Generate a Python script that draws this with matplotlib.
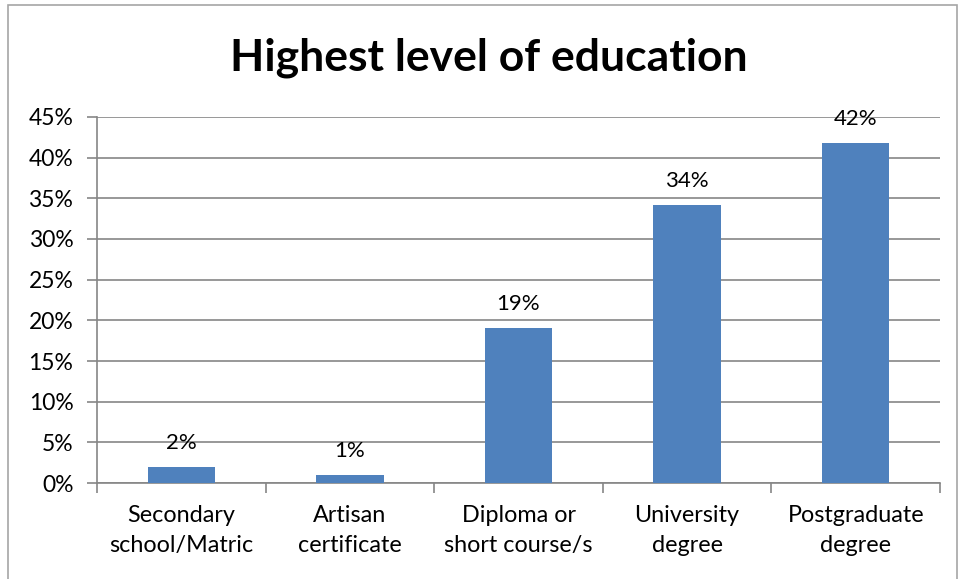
import matplotlib.pyplot as plt
import numpy as np
from matplotlib.patches import Rectangle

categories = ["Secondary\nschool/Matric", "Artisan\ncertificate", "Diploma or\nshort course/s",
              "University\ndegree", "Postgraduate\ndegree"]
values = [2, 1, 19, 34, 42]
bar_vals = [1.95, 0.95, 19.05, 34.2, 41.85]
yticks = [0, 5, 10, 15, 20, 25, 30, 35, 40, 45]

plt.rcParams['font.family'] = ['Lato', 'DejaVu Sans']
grey = "#868686"

fig = plt.figure(figsize=(9.58, 5.79), dpi=100)
fig.patches.append(Rectangle((8 / 958, -0.01), 0.999 - 8 / 958, 1 - 5 / 579 + 0.01,
                             transform=fig.transFigure, fill=False, edgecolor="#a6a6a6", linewidth=1.2))

ax = fig.add_axes([97 / 958, 1 - 483 / 579, (940 - 97) / 958, (483 - 117) / 579])
x = np.arange(len(categories))
ax.bar(x, bar_vals, width=0.4, color="#4f81bd", zorder=3)

for xi, v, label in zip(x, bar_vals, values):
    ax.annotate(f"{label}%", (xi, v), xytext=(0, 10), textcoords="offset points",
                ha="center", va="bottom", fontsize=16)

ax.set_xlim(-0.5, len(categories) - 0.5)
ax.set_ylim(0, 45)
ax.set_yticks(yticks)
ax.set_yticklabels([f"{t}%" for t in yticks], fontsize=16.5)
ax.yaxis.grid(True, color=grey, linewidth=1.2, zorder=0)
ax.set_axisbelow(True)

ax.set_xticks(np.arange(len(categories) + 1) - 0.5)
ax.set_xticklabels([])
ax.set_xticks(x, minor=True)
ax.set_xticklabels(categories, minor=True, fontsize=16.8, linespacing=1.5)
ax.tick_params(axis="x", which="minor", length=0, pad=16)
ax.tick_params(axis="x", which="major", length=7, color=grey, width=1.2)
ax.tick_params(axis="y", length=7, color=grey, width=1.2, pad=10)

for s in ["top", "right"]:
    ax.spines[s].set_visible(False)
for s in ["left", "bottom"]:
    ax.spines[s].set_color(grey)
    ax.spines[s].set_linewidth(1.2)

fig.text(489 / 958, 1 - 58 / 579, "Highest level of education", ha="center", va="center",
         fontsize=32, fontweight="bold")

fig.savefig("out.png", dpi=100)
